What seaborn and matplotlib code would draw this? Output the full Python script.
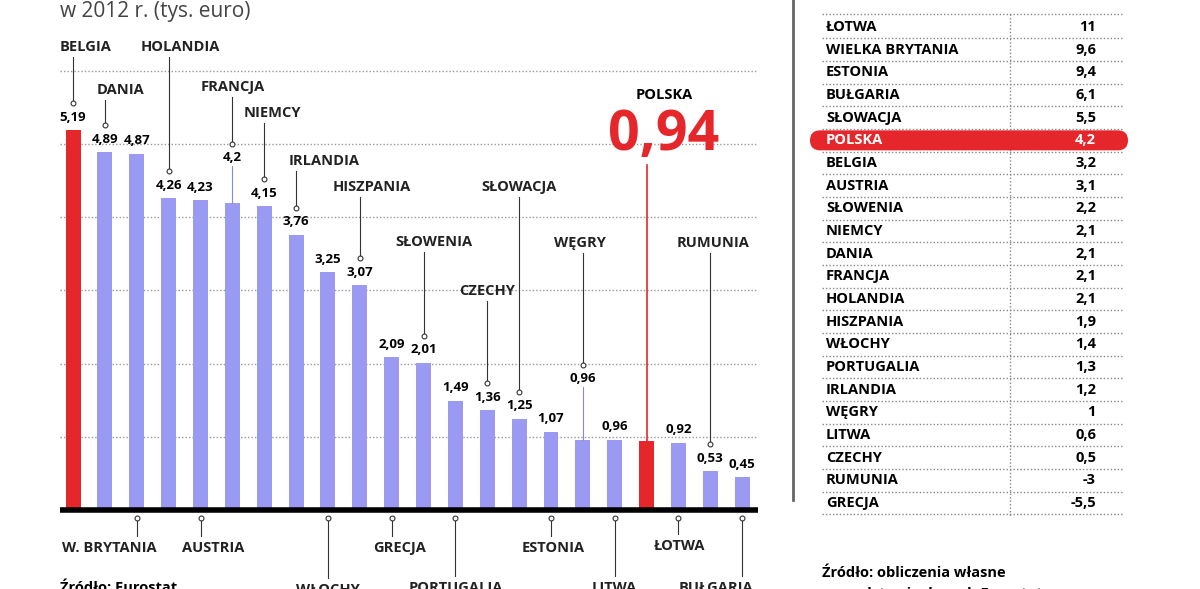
import matplotlib
matplotlib.use("Agg")
import matplotlib.pyplot as plt
import seaborn as sns
import pandas as pd
from matplotlib.patches import FancyBboxPatch

# ---------------- data ----------------
countries = ["BELGIA", "DANIA", "W. BRYTANIA", "HOLANDIA", "AUSTRIA", "FRANCJA", "NIEMCY",
             "IRLANDIA", "WŁOCHY", "HISZPANIA", "GRECJA", "SŁOWENIA", "PORTUGALIA", "CZECHY",
             "SŁOWACJA", "ESTONIA", "WĘGRY", "LITWA", "POLSKA", "ŁOTWA", "RUMUNIA", "BUŁGARIA"]
values = [5.19, 4.89, 4.87, 4.26, 4.23, 4.2, 4.15, 3.76, 3.25, 3.07, 2.09, 2.01, 1.49, 1.36,
          1.25, 1.07, 0.96, 0.96, 0.94, 0.92, 0.53, 0.45]
highlight = ["BELGIA", "POLSKA"]

table_countries = ["ŁOTWA", "WIELKA BRYTANIA", "ESTONIA", "BUŁGARIA", "SŁOWACJA", "POLSKA",
                   "BELGIA", "AUSTRIA", "SŁOWENIA", "NIEMCY", "DANIA", "FRANCJA", "HOLANDIA",
                   "HISZPANIA", "WŁOCHY", "PORTUGALIA", "IRLANDIA", "WĘGRY", "LITWA", "CZECHY",
                   "RUMUNIA", "GRECJA"]
table_values = ["11", "9,6", "9,4", "6,1", "5,5", "4,2", "3,2", "3,1", "2,2", "2,1", "2,1", "2,1",
                "2,1", "1,9", "1,4", "1,3", "1,2", "1", "0,6", "0,5", "-3", "-5,5"]

# ---------------- layout (pixels) ----------------
# label placement: (side, label y px, label x offset px)
label_pos = {
    "BELGIA": ("top", 47, 12), "DANIA": ("top", 90, 16), "W. BRYTANIA": ("bottom", 548, -27),
    "HOLANDIA": ("top", 47, 12), "AUSTRIA": ("bottom", 548, 13), "FRANCJA": ("top", 87, 0),
    "NIEMCY": ("top", 113, 8), "IRLANDIA": ("top", 161, 28), "WŁOCHY": ("bottom", 590, 0),
    "HISZPANIA": ("top", 187, 12), "GRECJA": ("bottom", 548, 8), "SŁOWENIA": ("top", 242, 10),
    "PORTUGALIA": ("bottom", 588, 0), "CZECHY": ("top", 291, 0), "SŁOWACJA": ("top", 187, 0),
    "ESTONIA": ("bottom", 548, 2), "WĘGRY": ("top", 243, -3), "LITWA": ("bottom", 588, 0),
    "POLSKA": ("top", 95, 0), "ŁOTWA": ("bottom", 546, 1), "RUMUNIA": ("top", 243, 3),
    "BUŁGARIA": ("bottom", 588, -26),
}
value_raise_px = {"FRANCJA": 32, "WĘGRY": 48}

BASE_PX, PX_PER_UNIT = 510, 73.2
BAR_PX = 31.86
def d(ypx):
    return (BASE_PX - ypx) / PX_PER_UNIT

BLUE = "#9a9af2"
RED = "#e5262a"
FONT = ["Open Sans", "DejaVu Sans"]
plt.rcParams["font.family"] = FONT

fig = plt.figure(figsize=(12, 5.89), dpi=100)
ax = fig.add_axes([0.05, 0, 700 / 1200, 1])
df = pd.DataFrame({"country": countries, "value": values})
palette = {c: (RED if c in highlight else BLUE) for c in countries}
sns.barplot(data=df, x="country", y="value", hue="country", palette=palette, order=countries,
            width=0.47, legend=False, ax=ax, saturation=1)
ax.set_xlim(-0.41, 21.56)
ax.set_ylim(d(589), d(0))
ax.axis("off")

for g in range(1, 7):
    ax.plot([-0.41, 21.5], [g, g], ls=(0, (1, 1.5)), color="#999999", lw=1, zorder=0)
ax.plot([-0.41, 21.5], [0, 0], color="black", lw=4, zorder=3, solid_capstyle="butt")

for i, (c, v) in enumerate(zip(countries, values)):
    side, lypx, xoff = label_pos[c]
    lx = i + xoff / BAR_PX
    vy = v + (13 + value_raise_px.get(c, 0)) / PX_PER_UNIT
    if c != "POLSKA":
        ax.text(i, vy, f"{v:g}".replace(".", ","), ha="center", va="center",
                fontsize=9.5, fontweight="bold", color="black", zorder=4)
        if c in value_raise_px:
            ax.plot([i, i], [v, vy - 8 / PX_PER_UNIT], color="#8888dd", lw=0.8)
    if side == "top":
        if c == "POLSKA":
            ax.text(i + 0.55, d(95), c, ha="center", va="center", fontsize=10.5, fontweight="bold")
            ax.text(i + 0.55, d(135), "0,94", ha="center", va="center", fontsize=40,
                    fontweight="bold", color=RED)
            ax.plot([i, i], [v, d(165)], color=RED, lw=1.2)
        else:
            dot = vy + 14 / PX_PER_UNIT
            ax.plot([i, i], [d(lypx + 10), dot], color="#333333", lw=0.8)
            ax.plot(i, dot, "o", ms=3.5, mfc="white", mec="#333333", mew=0.8)
            ax.text(lx, d(lypx), c, ha="center", va="center", fontsize=10.5, fontweight="bold",
                    color="#222222")
    else:
        dot = d(518)
        ax.plot([i, i], [dot, d(lypx - 12)], color="#333333", lw=0.8, clip_on=False)
        ax.plot(i, dot, "o", ms=3.5, mfc="white", mec="#333333", mew=0.8)
        ax.text(lx, d(lypx), c, ha="center", va="center", fontsize=10.5, fontweight="bold",
                color="#222222", clip_on=False)

# ---------------- overlay in pixel coords ----------------
ov = fig.add_axes([0, 0, 1, 1], facecolor="none")
ov.set_xlim(0, 1200)
ov.set_ylim(589, 0)
ov.axis("off")
ov.text(60, 12, "w 2012 r. (tys. euro)", fontsize=15, color="#444444", va="center")
ov.text(60, 588, "Źródło: Eurostat", fontsize=10.5, fontweight="bold", va="center")
ov.plot([793, 793], [0, 500], color="#666666", lw=2)

row0, step = 27, 22.67
ov.plot([822, 1122], [row0 - 13, row0 - 13], ls=(0, (1, 1.5)), color="#888888", lw=1)
ov.plot([1010, 1010], [row0 - 13, row0 + 21 * step + 13], ls=(0, (1, 1.5)), color="#888888", lw=1)
for k, (c, v) in enumerate(zip(table_countries, table_values)):
    y = row0 + k * step
    col = "black"
    if c == "POLSKA":
        ov.add_patch(FancyBboxPatch((810, y - 10), 318, 20, boxstyle="round,pad=0,rounding_size=10",
                                    fc=RED, ec="none", zorder=2))
        col = "white"
    ov.text(826, y, c, fontsize=10.5, fontweight="bold", va="center", color=col, zorder=3)
    ov.text(1096, y, v, fontsize=10.5, fontweight="bold", va="center", ha="right", color=col, zorder=3)
    ov.plot([822, 1122], [y + step / 2, y + step / 2], ls=(0, (1, 1.5)), color="#888888", lw=1, zorder=1)
ov.text(822, 573, "Źródło: obliczenia własne", fontsize=10.5, fontweight="bold", va="center")
ov.text(822, 594, "na podstawie danych Eurostatu", fontsize=10.5, fontweight="bold", va="center")

fig.savefig("out.png", dpi=100)
